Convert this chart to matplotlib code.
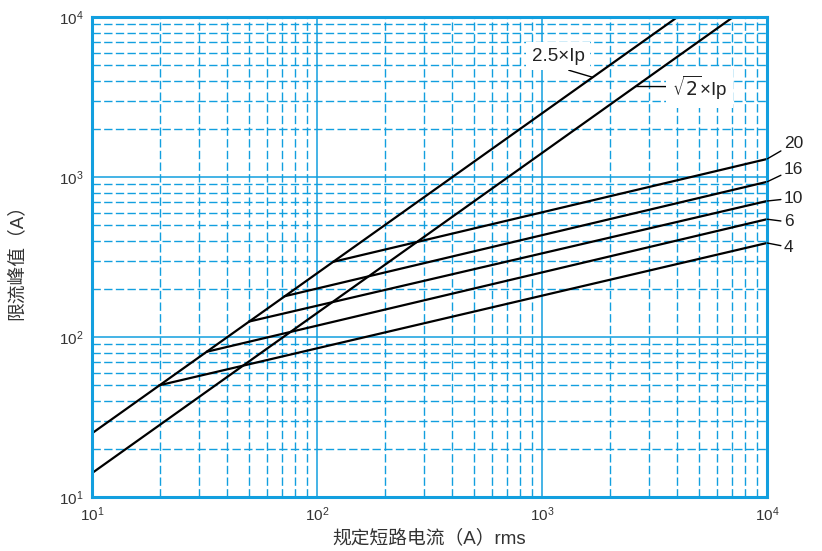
import matplotlib
matplotlib.use("Agg")
import matplotlib.pyplot as plt

plt.rcParams['font.family'] = ['Liberation Sans', 'Noto Sans CJK SC']

# 额定电流 (熔断器规格)
ratings = ['4', '6', '10', '16', '20']
start_x = [20, 32.5, 50, 72, 118]
start_y = [50, 81, 125, 180, 295]
end_x = [1e4, 1e4, 1e4, 1e4, 1e4]
end_y = [387, 545, 708, 933, 1296]

# 参考直线
line25_x = [10, 1e4]
line25_y = [25, 25000]
line14_x = [10, 1e4]
line14_y = [14.1, 14142]

blue = '#129fdf'

fig = plt.figure(figsize=(8.22, 5.51), dpi=100)
ax = fig.add_axes([0.1119, 0.098, 0.8212, 0.8711])
ax.set_xscale('log')
ax.set_yscale('log')
ax.set_xlim(10, 1e4)
ax.set_ylim(10, 1e4)

ax.grid(True, which='major', color=blue, linewidth=1.1, linestyle='-')
ax.grid(True, which='minor', color=blue, linewidth=1.0, linestyle=(0, (6, 2.4)))
for s in ax.spines.values():
    s.set_color(blue)
    s.set_linewidth(2.2)
ax.tick_params(which='both', length=0, labelsize=11, colors='#333333', pad=6)

ax.plot(line25_x, line25_y, color='black', lw=1.6)
ax.plot(line14_x, line14_y, color='black', lw=1.6)
for i in range(len(ratings)):
    ax.plot([start_x[i], end_x[i]], [start_y[i], end_y[i]], color='black', lw=1.6)

# 右侧标注
offsets = [(12, -3), (12, -2), (12, 2), (12, 9), (12, 11)]
for i in range(len(ratings)):
    ax.annotate(ratings[i], xy=(end_x[i], end_y[i]), xytext=offsets[i],
                textcoords='offset points', fontsize=12.5, color='#222222',
                ha='left', va='center', annotation_clip=False,
                arrowprops=dict(arrowstyle='-', color='black', lw=1.0,
                                shrinkA=0, shrinkB=0))

ax.annotate('2.5×Ip', xy=(1680, 4200), xytext=(1180, 5700),
            fontsize=13.5, color='#222222', ha='center', va='center',
            bbox=dict(boxstyle='square,pad=0.3', fc='white', ec='none'),
            arrowprops=dict(arrowstyle='-', color='black', lw=1.0,
                            shrinkA=0, shrinkB=0, relpos=(0.45, -0.1)))
ax.annotate(r'$\sqrt{2}$×Ip', xy=(2600, 3680), xytext=(5000, 3600),
            fontsize=13.5, color='#222222', ha='center', va='center',
            bbox=dict(boxstyle='square,pad=0.3', fc='white', ec='none'),
            arrowprops=dict(arrowstyle='-', color='black', lw=1.0,
                            shrinkA=0, shrinkB=0, relpos=(0.0, 0.55)))

ax.set_xlabel('规定短路电流（A）rms', fontsize=13.5, color='#333333', labelpad=4)
ax.set_ylabel('限流峰值（A）', fontsize=13.5, color='#333333')
ax.yaxis.set_label_coords(-0.098, 0.5)

fig.savefig('out.png', dpi=100)
